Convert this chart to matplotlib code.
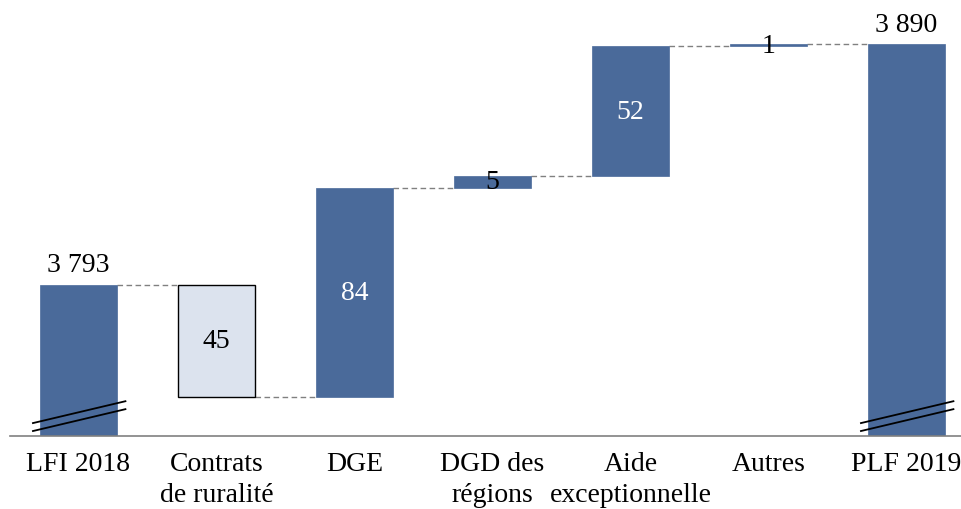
import matplotlib
matplotlib.use("Agg")
import matplotlib.pyplot as plt

categories = ["LFI 2018", "Contrats\nde ruralité", "DGE", "DGD des\nrégions",
              "Aide\nexceptionnelle", "Autres", "PLF 2019"]
start_total = 3793
changes = [-45, 84, 5, 52, 1]
end_total = 3890
labels = ["3 793", "45", "84", "5", "52", "1", "3 890"]

dark = "#4A6A9A"
light = "#DCE3EE"
plt.rcParams['font.family'] = ['Liberation Serif', 'DejaVu Serif']

fig = plt.figure(figsize=(9.61, 5.10), dpi=100)
ax = fig.add_axes([9.5 / 961, 73 / 510, 1 - 9.5 / 961, 437 / 510])
ymin, ymax = 3732.2, 3908.1
ax.set_ylim(ymin, ymax)
ax.set_xlim(-0.5, (961 - 78.5) / 138)

w = 0.56
bottoms, heights, colors, edges = [], [], [], []
bottoms.append(ymin); heights.append(start_total - ymin); colors.append(dark); edges.append(dark)
level = start_total
levels = [start_total]
for c in changes:
    new = level + c
    bottoms.append(min(level, new)); heights.append(abs(c))
    if c < 0:
        colors.append(light); edges.append("black")
    else:
        colors.append(dark); edges.append(dark)
    level = new
    levels.append(level)
bottoms.append(ymin); heights.append(end_total - ymin); colors.append(dark); edges.append(dark)

x = list(range(len(categories)))
for i in x:
    ax.bar(i, heights[i], w, bottom=bottoms[i], color=colors[i],
           edgecolor=edges[i], linewidth=1.0 if edges[i] == "black" else 0.5, zorder=2)

for i in range(len(categories) - 1):
    yv = levels[i]
    ax.plot([i + w / 2, i + 1 - w / 2], [yv, yv], ls=(0, (4, 2.5)), color="#808080", lw=1, zorder=1)

fs = 20
ax.text(0, start_total + 3, labels[0], ha="center", va="bottom", fontsize=fs)
ax.text(6, end_total + 3, labels[6], ha="center", va="bottom", fontsize=fs)
for i in range(1, 6):
    mid = bottoms[i] + heights[i] / 2
    col = "white" if heights[i] > 20 and colors[i] == dark else "black"
    ax.text(i, mid, labels[i], ha="center", va="center", fontsize=fs, color=col, zorder=3)

for i in (0, 6):
    for off in (0, 3.2):
        x0, x1 = i - 0.33, i + 0.34
        y0 = ymin + 5.2 - off
        y1 = ymin + 14.0 - off
        ax.plot([x0, x1], [y0, y1], color="black", lw=1.3, zorder=4, clip_on=False)

for s in ["top", "right", "left"]:
    ax.spines[s].set_visible(False)
ax.spines["bottom"].set_color("#808080")
ax.spines["bottom"].set_linewidth(1.2)
ax.set_yticks([])
ax.set_xticks(x)
ax.set_xticklabels(categories, fontsize=fs, linespacing=1.3)
ax.tick_params(axis="x", length=0, pad=11)

fig.savefig("out.png", dpi=100)
